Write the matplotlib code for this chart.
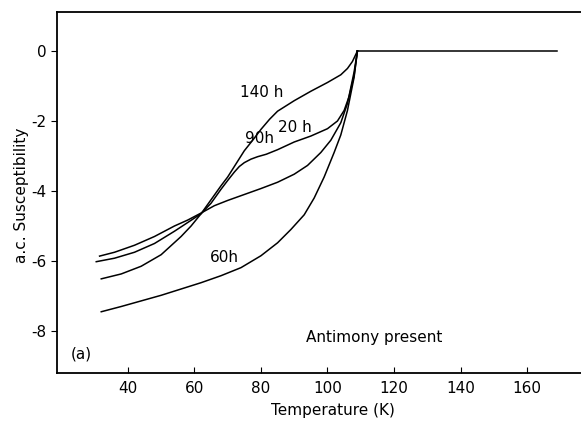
import matplotlib
matplotlib.use("Agg")
import matplotlib.pyplot as plt

plt.rcParams['axes.unicode_minus'] = False
plt.rcParams['font.family'] = ['DejaVu Sans']

t_140 = [32, 38, 44, 50, 56, 59, 62, 65, 68, 70, 72, 75, 77.6, 80, 82.6, 85, 90, 95, 100, 104, 106, 107.5, 109]
v_140 = [-6.51, -6.37, -6.15, -5.82, -5.3, -5.0, -4.65, -4.25, -3.85, -3.6, -3.3, -2.85, -2.54, -2.24, -1.95, -1.72, -1.42, -1.15, -0.9, -0.68, -0.5, -0.3, 0.0]

t_20 = [30.5, 36, 42, 48, 54, 58, 62, 65, 68, 70, 72, 73.5, 75, 77, 79, 81.6, 85, 90, 95, 100, 103, 105, 106.5, 108, 109]
v_20 = [-6.02, -5.92, -5.75, -5.5, -5.15, -4.9, -4.65, -4.35, -3.95, -3.7, -3.46, -3.3, -3.19, -3.09, -3.02, -2.95, -2.82, -2.6, -2.43, -2.22, -2.0, -1.7, -1.3, -0.7, 0.0]

t_90 = [31.5, 36, 42, 48, 54, 58, 62, 66, 70, 75, 80, 85, 90, 94, 98, 101, 104, 106, 108, 109]
v_90 = [-5.86, -5.75, -5.55, -5.3, -5.0, -4.83, -4.63, -4.42, -4.27, -4.1, -3.93, -3.75, -3.52, -3.27, -2.9, -2.55, -2.05, -1.5, -0.6, 0.0]

t_60 = [32, 38, 44, 50, 56, 62, 68, 74, 80, 85, 89, 93, 96, 99, 102, 104, 106, 108, 109]
v_60 = [-7.45, -7.3, -7.14, -6.98, -6.8, -6.62, -6.42, -6.19, -5.85, -5.48, -5.1, -4.68, -4.2, -3.6, -2.9, -2.4, -1.7, -0.75, 0.0]

t_flat = [109, 169]
v_flat = [0.0, 0.0]

labels = ["140 h", "20 h", "90h", "60h"]
label_pos = [(80.2, -1.2), (90.2, -2.2), (79.6, -2.51), (69.1, -5.9)]

xticks = [40, 60, 80, 100, 120, 140, 160]
yticks = [0, -2, -4, -6, -8]

fig = plt.figure(figsize=(5.81, 4.22), dpi=100)
ax = fig.add_axes([57/581, 1-373/422, 1-57/581, (373-12)/422])

for t, v in [(t_140, v_140), (t_20, v_20), (t_90, v_90), (t_60, v_60), (t_flat, v_flat)]:
    ax.plot(t, v, color='black', lw=1.1)

for txt, (x, y) in zip(labels, label_pos):
    ax.text(x, y, txt, ha='center', va='center', fontsize=11)

ax.text(93.5, -8.2, "Antimony present", ha='left', va='center', fontsize=11)
ax.text(25.9, -8.66, "(a)", ha='center', va='center', fontsize=11)

ax.set_xlim(18.7, 176.2)
ax.set_ylim(-9.2, 1.114)
ax.set_xticks(xticks)
ax.set_yticks(yticks)
ax.set_yticklabels([str(y) for y in yticks])
ax.tick_params(axis='x', direction='in', length=4, labelsize=11, pad=6)
ax.tick_params(axis='y', direction='out', length=4, labelsize=11)
ax.spines['right'].set_visible(False)
for s in ['left', 'top', 'bottom']:
    ax.spines[s].set_linewidth(1.3)

fig.text(333/581, 1-410/422, "Temperature (K)", ha='center', va='center', fontsize=11)
fig.text(22/581, 1-195/422, "a.c. Susceptibility", ha='center', va='center', rotation=90, fontsize=11)

fig.savefig("out.png", dpi=100)
